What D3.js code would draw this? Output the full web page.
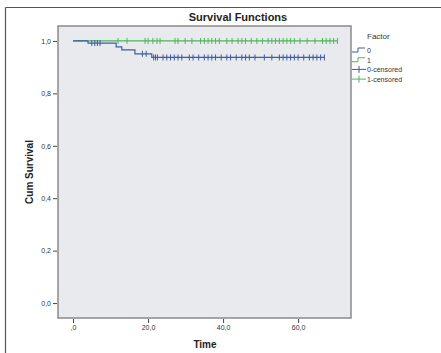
<!DOCTYPE html>
<html>
<head>
    <title>Survival Functions</title>
    <script src="https://d3js.org/d3.v7.min.js"></script>
    <style>
        body { margin: 0; background: #fff; }
        text { font-family: "Liberation Sans", Arial, sans-serif; }
    </style>
</head>
<body>
    <div id="chart"></div>
    <script>
// Kaplan-Meier steps per group (time, cumulative survival)
const group0Times = [0, 4, 11.5, 13, 16.5, 21, 67];
const group0Surv = [1, 0.992, 0.977, 0.966, 0.951, 0.937, 0.937];
const group1Times = [0, 70.5];
const group1Surv = [1, 1];

// censored observations
const group0Censor = [5, 5.8, 6.5, 7.2, 18.5, 19.5, 21.5, 22, 22.5, 24, 25, 26, 27, 28, 29,
    31, 32, 33.5, 35, 36, 37, 38, 39.5, 41, 42, 43.5, 45, 46, 47, 48.5, 51, 53,
    55, 56, 57, 58, 59, 60, 61.5, 63, 64, 65, 66, 67];
const group1Censor = [12, 14.4, 19.2, 20, 21.3, 22.4, 23.2, 27.2, 28, 29.9, 31.7,
    34, 35, 36, 37, 38, 39, 41, 42.4, 44, 45, 46, 47.5, 49, 50.5, 52, 53, 54, 55,
    56, 57, 58, 59, 60.5, 62.4, 64.5, 66.5, 67.5, 68.5, 69.5, 70.5];

const xTicks = [0, 20, 40, 60];
const yTicks = [0, 0.2, 0.4, 0.6, 0.8, 1.0];
const legendLabels = ['0', '1', '0-censored', '1-censored'];

const width = 441, height = 353;
const plot = { left: 58, top: 26, right: 351, bottom: 318 };
const blue = '#3f5aa8', green = '#4fb559';

const fmtY = v => d3.format('.1f')(v).replace('.', ',');
const fmtX = v => fmtY(v).replace(/^0,/, ',');

const svg = d3.select('#chart').append('svg')
    .attr('width', width).attr('height', height);

// outer frame (top + left only visible)
svg.append('line').attr('x1', 5.5).attr('x2', width).attr('y1', 7.5).attr('y2', 7.5)
    .attr('stroke', '#555').attr('stroke-width', 1.2);
svg.append('line').attr('x1', 5.5).attr('x2', 5.5).attr('y1', 7.5).attr('y2', height)
    .attr('stroke', '#555').attr('stroke-width', 1.2);

const x = d3.scaleLinear().domain([-4, 74.1]).range([plot.left, plot.right]);
const y = d3.scaleLinear().domain([-0.057, 1.057]).range([plot.bottom, plot.top]);

svg.append('rect')
    .attr('x', plot.left).attr('y', plot.top)
    .attr('width', plot.right - plot.left).attr('height', plot.bottom - plot.top)
    .attr('fill', '#e8eaee').attr('stroke', '#8a8a8a').attr('stroke-width', 1.5);

// axes
const xAxis = svg.append('g')
    .attr('transform', `translate(0,${plot.bottom + 1})`)
    .call(d3.axisBottom(x).tickValues(xTicks).tickSize(4).tickPadding(2).tickFormat(fmtX));
const yAxis = svg.append('g')
    .attr('transform', `translate(${plot.left - 1},0)`)
    .call(d3.axisLeft(y).tickValues(yTicks).tickSize(4).tickPadding(2).tickFormat(fmtY));
[xAxis, yAxis].forEach(a => {
    a.select('.domain').remove();
    a.selectAll('line').attr('stroke', '#444');
    a.selectAll('text').attr('font-size', 7).attr('fill', '#333')
        .attr('font-family', '"Liberation Sans", Arial, sans-serif');
});

// titles
svg.append('text').attr('x', 238).attr('y', 21).attr('text-anchor', 'middle')
    .attr('font-size', 11).attr('font-weight', 'bold').attr('fill', '#222')
    .text('Survival Functions');
svg.append('text').attr('x', 205).attr('y', 348).attr('text-anchor', 'middle')
    .attr('font-size', 10).attr('font-weight', 'bold').attr('fill', '#222')
    .text('Time');
svg.append('text')
    .attr('transform', `translate(33,${(plot.top + plot.bottom) / 2}) rotate(-90)`)
    .attr('text-anchor', 'middle')
    .attr('font-size', 10).attr('font-weight', 'bold').attr('fill', '#222')
    .text('Cum Survival');

const step = d3.line().x(d => x(d[0])).y(d => y(d[1])).curve(d3.curveStepAfter);

function stepValue(times, surv, t) {
    const i = d3.bisectRight(times, t) - 1;
    return surv[Math.max(0, i)];
}

function drawGroup(times, surv, censor, color) {
    svg.append('path')
        .datum(times.map((t, i) => [t, surv[i]]))
        .attr('d', step)
        .attr('fill', 'none').attr('stroke', color).attr('stroke-width', 1.2);
    svg.append('g').selectAll('line')
        .data(censor).enter().append('line')
        .attr('x1', d => x(d)).attr('x2', d => x(d))
        .attr('y1', d => y(stepValue(times, surv, d)) - 3)
        .attr('y2', d => y(stepValue(times, surv, d)) + 3)
        .attr('stroke', color).attr('stroke-width', 1);
}

drawGroup(group1Times, group1Surv, group1Censor, green);
drawGroup(group0Times, group0Surv, group0Censor, blue);

// legend
svg.append('text').attr('x', 367).attr('y', 39)
    .attr('font-size', 8).attr('fill', '#333').text('Factor');
const legendColors = [blue, green, blue, green];
const lg = svg.append('g').selectAll('g')
    .data(legendLabels).enter().append('g')
    .attr('transform', (d, i) => `translate(352,${50 + i * 9.7})`);
lg.each(function (d, i) {
    const g = d3.select(this);
    if (i < 2) {
        g.append('path').attr('d', 'M0,2H6V-2H13')
            .attr('fill', 'none').attr('stroke', legendColors[i]).attr('stroke-width', 1);
    } else {
        g.append('line').attr('x1', 0).attr('x2', 14).attr('y1', 0).attr('y2', 0)
            .attr('stroke', legendColors[i]).attr('stroke-width', 1);
        g.append('line').attr('x1', 7).attr('x2', 7).attr('y1', -3.5).attr('y2', 3.5)
            .attr('stroke', legendColors[i]).attr('stroke-width', 1);
    }
    g.append('text').attr('x', 15).attr('y', 3)
        .attr('font-size', 7).attr('fill', '#333').text(d);
});
    </script>
</body>
</html>
